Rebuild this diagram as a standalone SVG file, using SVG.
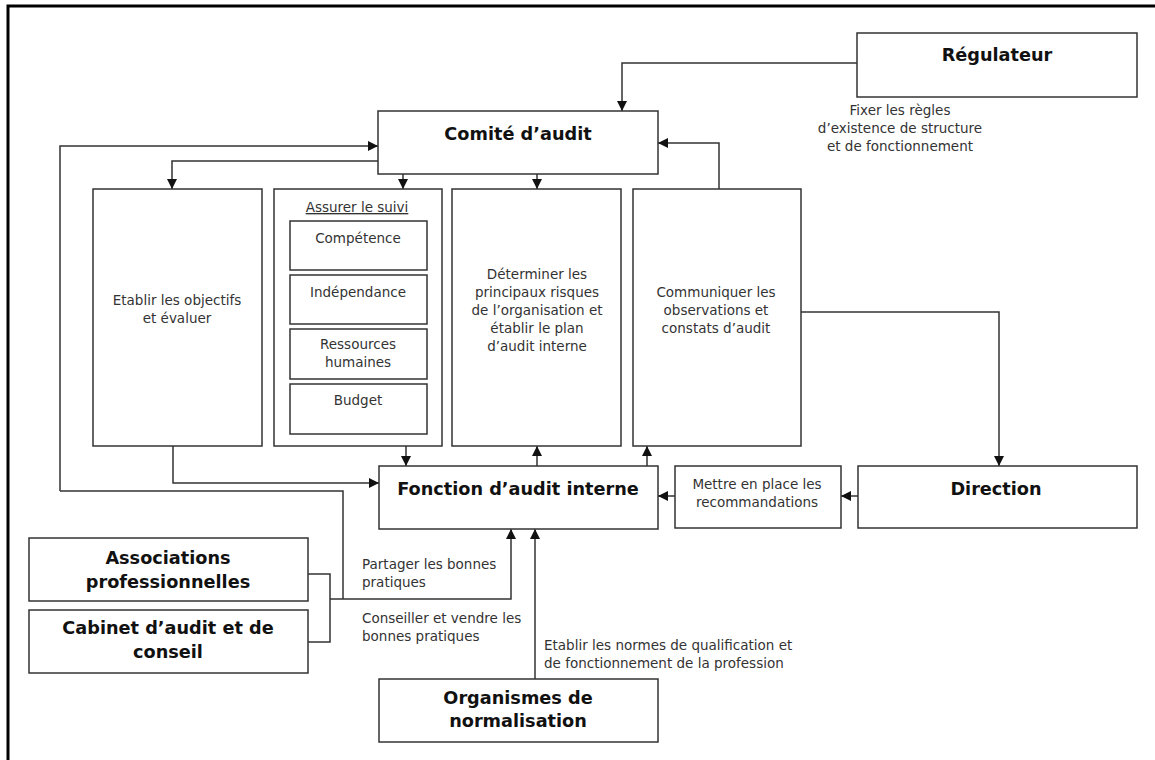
<svg xmlns="http://www.w3.org/2000/svg" width="1155" height="760" viewBox="0 0 1155 760">
<defs>
<marker id="ah" viewBox="0 0 10 10" refX="10" refY="5" markerWidth="10" markerHeight="10" markerUnits="userSpaceOnUse" orient="auto">
<path d="M0,0 L10,5 L0,10 z" fill="#111"/>
</marker>
</defs>
<style>
.box{fill:#fff;stroke:#333;stroke-width:1.5}
.ln{fill:none;stroke:#333;stroke-width:1.5}
.ar{fill:none;stroke:#333;stroke-width:1.5;marker-end:url(#ah)}
.t{font-family:"DejaVu Sans",Verdana,sans-serif;font-size:13.5px;fill:#333}
.b{font-family:"DejaVu Sans",Verdana,sans-serif;font-size:17.7px;font-weight:bold;fill:#111}
.c{text-anchor:middle}
</style>
<rect width="1155" height="760" fill="#fff"/>
<path d="M8,760 V6 H1155" fill="none" stroke="#000" stroke-width="3"/>

<g id="connectors">
<path class="ar" d="M857,63 H622 V111"/>
<path class="ar" d="M60,491 V146 H378"/>
<path class="ar" d="M381,161 H172 V189"/>
<path class="ar" d="M403,174 V189"/>
<path class="ar" d="M537,174 V189"/>
<path class="ar" d="M719,189 V143 H658"/>
<path class="ar" d="M801,312 H999 V466"/>
<path class="ar" d="M858,496 H841"/>
<path class="ar" d="M675,496 H658"/>
<path class="ar" d="M406,446 V466"/>
<path class="ar" d="M537,466 V446"/>
<path class="ar" d="M647,466 V446"/>
<path class="ar" d="M173,446 V483 H379"/>
<path class="ln" d="M308,574 H330 V642 H308"/>
<path class="ar" d="M330,599 H511 V529"/>
<path class="ln" d="M343,599 V491 H60"/>
<path class="ar" d="M535,679 V529"/>
</g>

<g id="regulateur">
<rect class="box" x="857" y="33" width="280" height="64"/>
<text class="b c" x="997" y="61">Régulateur</text>
</g>
<g id="label-regulateur">
<text class="t c" x="900" y="115">Fixer les règles</text>
<text class="t c" x="900" y="133">d’existence de structure</text>
<text class="t c" x="900" y="151">et de fonctionnement</text>
</g>

<g id="comite">
<rect class="box" x="378" y="111" width="280" height="63"/>
<text class="b c" x="518" y="140">Comité d’audit</text>
</g>

<g id="etablir">
<rect class="box" x="93" y="189" width="169" height="257"/>
<text class="t c" x="177" y="305">Etablir les objectifs</text>
<text class="t c" x="177" y="323">et évaluer</text>
</g>

<g id="assurer">
<rect class="box" x="274" y="189" width="168" height="257"/>
<text class="t c" x="357" y="212" text-decoration="underline">Assurer le suivi</text>
<rect class="box" x="290" y="221" width="137" height="49"/>
<text class="t c" x="358" y="243">Compétence</text>
<rect class="box" x="290" y="275" width="137" height="49"/>
<text class="t c" x="358" y="297">Indépendance</text>
<rect class="box" x="290" y="329" width="137" height="50"/>
<text class="t c" x="358" y="349">Ressources</text>
<text class="t c" x="358" y="367">humaines</text>
<rect class="box" x="290" y="384" width="137" height="50"/>
<text class="t c" x="358" y="405">Budget</text>
</g>

<g id="determiner">
<rect class="box" x="452" y="189" width="169" height="257"/>
<text class="t c" x="537" y="279">Déterminer les</text>
<text class="t c" x="537" y="297">principaux risques</text>
<text class="t c" x="537" y="315">de l’organisation et</text>
<text class="t c" x="537" y="333">établir le plan</text>
<text class="t c" x="537" y="351">d’audit interne</text>
</g>

<g id="communiquer">
<rect class="box" x="633" y="189" width="168" height="257"/>
<text class="t c" x="716" y="297">Communiquer les</text>
<text class="t c" x="716" y="315">observations et</text>
<text class="t c" x="716" y="333">constats d’audit</text>
</g>

<g id="fonction">
<rect class="box" x="379" y="466" width="279" height="63"/>
<text class="b c" x="518" y="495">Fonction d’audit interne</text>
</g>

<g id="mettre">
<rect class="box" x="675" y="466" width="166" height="62"/>
<text class="t c" x="757" y="489">Mettre en place les</text>
<text class="t c" x="757" y="507">recommandations</text>
</g>

<g id="direction">
<rect class="box" x="858" y="466" width="279" height="62"/>
<text class="b c" x="996" y="495">Direction</text>
</g>

<g id="associations">
<rect class="box" x="29" y="538" width="279" height="63"/>
<text class="b c" x="168" y="564">Associations</text>
<text class="b c" x="168" y="588">professionnelles</text>
</g>

<g id="cabinet">
<rect class="box" x="29" y="610" width="279" height="63"/>
<text class="b c" x="168" y="634">Cabinet d’audit et de</text>
<text class="b c" x="168" y="658">conseil</text>
</g>

<g id="organismes">
<rect class="box" x="379" y="679" width="279" height="63"/>
<text class="b c" x="518" y="704">Organismes de</text>
<text class="b c" x="518" y="727">normalisation</text>
</g>

<g id="labels">
<text class="t" x="362" y="569">Partager les bonnes</text>
<text class="t" x="362" y="587">pratiques</text>
<text class="t" x="362" y="623">Conseiller et vendre les</text>
<text class="t" x="362" y="641">bonnes pratiques</text>
<text class="t" x="544" y="650">Etablir les normes de qualification et</text>
<text class="t" x="544" y="668">de fonctionnement de la profession</text>
</g>
</svg>
